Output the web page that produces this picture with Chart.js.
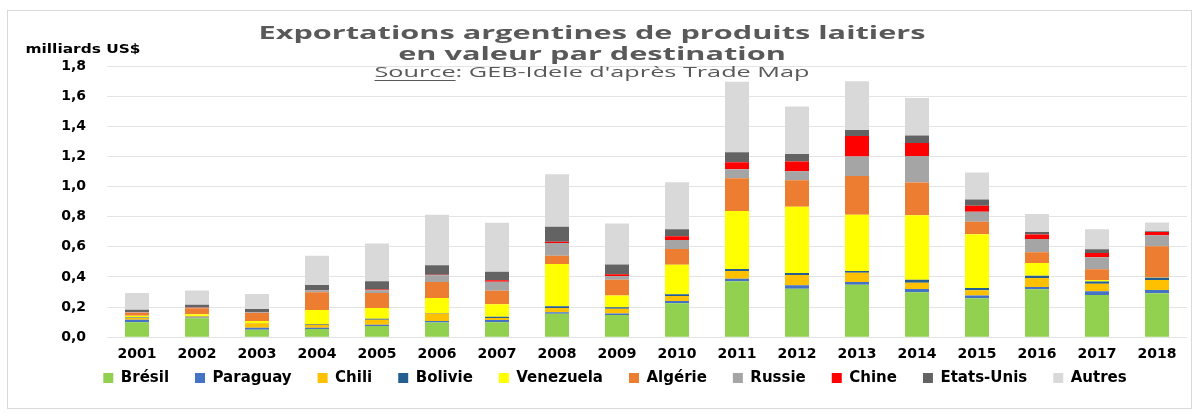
<!DOCTYPE html>
<html><head><meta charset="utf-8">
<script src="https://cdn.jsdelivr.net/npm/chart.js@4.4.1/dist/chart.umd.min.js"></script>
<style>html,body{margin:0;padding:0;background:#fff}#wrap{width:1198px;height:418px}</style>
</head><body><div id="wrap"><canvas id="c" width="1198" height="418"></canvas></div>
<script>
const years = ['2001','2002','2003','2004','2005','2006','2007','2008','2009','2010','2011','2012','2013','2014','2015','2016','2017','2018'];
const bresil    = [0.100,0.125,0.050,0.055,0.075,0.097,0.100,0.156,0.148,0.225,0.371,0.322,0.348,0.298,0.258,0.318,0.280,0.291];
const paraguay  = [0.015,0.005,0.012,0.008,0.008,0.010,0.014,0.010,0.010,0.015,0.017,0.022,0.018,0.022,0.018,0.015,0.025,0.022];
const chili     = [0.012,0.008,0.030,0.020,0.032,0.050,0.013,0.028,0.031,0.033,0.051,0.069,0.062,0.042,0.035,0.060,0.050,0.066];
const bolivie   = [0.003,0.002,0.003,0.004,0.008,0.004,0.008,0.012,0.009,0.012,0.013,0.013,0.011,0.020,0.015,0.015,0.015,0.015];
const venezuela = [0.012,0.012,0.012,0.094,0.071,0.100,0.083,0.280,0.078,0.196,0.386,0.439,0.373,0.428,0.358,0.084,0.010,0.003];
const algerie   = [0.020,0.040,0.053,0.117,0.100,0.105,0.090,0.055,0.105,0.104,0.217,0.177,0.258,0.216,0.082,0.071,0.071,0.206];
const russie    = [0.003,0.004,0.005,0.013,0.018,0.045,0.060,0.084,0.023,0.060,0.060,0.059,0.129,0.177,0.066,0.088,0.080,0.074];
const chine     = [0.002,0.001,0.002,0.002,0.004,0.003,0.010,0.008,0.013,0.025,0.046,0.065,0.136,0.086,0.040,0.031,0.028,0.022];
const etatsUnis = [0.016,0.018,0.020,0.033,0.056,0.063,0.056,0.100,0.066,0.046,0.066,0.050,0.040,0.049,0.042,0.017,0.025,0.005];
const autres    = [0.110,0.095,0.100,0.194,0.250,0.335,0.325,0.348,0.272,0.313,0.468,0.316,0.324,0.249,0.179,0.118,0.133,0.058];
const yTickLabels = ['0,0','0,2','0,4','0,6','0,8','1,0','1,2','1,4','1,6','1,8'];

const series = [
  ['Brésil', bresil, '#92D050'],
  ['Paraguay', paraguay, '#4472C4'],
  ['Chili', chili, '#FFC000'],
  ['Bolivie', bolivie, '#255E91'],
  ['Venezuela', venezuela, '#FFFF00'],
  ['Algérie', algerie, '#ED7D31'],
  ['Russie', russie, '#A5A5A5'],
  ['Chine', chine, '#FF0000'],
  ['Etats-Unis', etatsUnis, '#636363'],
  ['Autres', autres, '#D9D9D9']
];

const LEGEND_ROW_Y = 378;

const decor = {
  id: 'decor',
  beforeDraw(c) {
    const g = c.ctx;
    g.save();
    g.fillStyle = '#fff'; g.fillRect(0, 0, c.width, c.height);
    g.strokeStyle = '#D9D9D9'; g.lineWidth = 1;
    g.strokeRect(7.5, 10.5, 1184, 398);
    g.restore();
    const lg = c.legend;
    if (lg && lg.legendHitBoxes && lg.legendHitBoxes.length) {
      const pad = lg.options.labels.padding;
      const hb = lg.legendHitBoxes[0];
      const currentCenter = lg.top + pad + hb.height / 2;
      const dy = LEGEND_ROW_Y - currentCenter;
      lg.top += dy; lg.bottom += dy;
      lg.legendHitBoxes.forEach(h => { h.top += dy; });
    }
  },
  afterDraw(c) {
    const g = c.ctx;
    g.save();
    g.textBaseline = 'middle';
    const t1 = 'Exportations argentines de produits laitiers';
    const t2 = 'en valeur par destination';
    g.font = 'bold 17px "Open Sans"';
    const s = 667 / g.measureText(t1).width;
    g.fillStyle = '#595959';
    g.textAlign = 'center';
    [[t1, 34], [t2, 55]].forEach(([t, y]) => {
      g.save(); g.translate(592, y); g.scale(s, 1); g.fillText(t, 0, 0); g.restore();
    });
    const sA = 'Source', sB = ": GEB-Idele d'après Trade Map";
    g.font = '14px "Open Sans"';
    const wA = g.measureText(sA).width, wB = g.measureText(sB).width;
    const ss = 435 / (wA + wB);
    const x0 = 592 - (wA + wB) * ss / 2;
    g.save(); g.translate(x0, 73); g.scale(ss, 1); g.textAlign = 'left';
    g.fillText(sA, 0, 0); g.fillText(sB, wA, 0);
    g.fillRect(0, 7, wA, 1);
    g.restore();
    const u = 'milliards US$';
    g.font = 'bold 12px "DejaVu Sans"';
    const su = 115 / g.measureText(u).width;
    g.fillStyle = '#000';
    g.save(); g.translate(83, 50); g.scale(su, 1); g.textAlign = 'center'; g.fillText(u, 0, 0); g.restore();
    g.restore();
  }
};

new Chart(document.getElementById('c'), {
  type: 'bar',
  data: {
    labels: years,
    datasets: series.map(([label, data, color]) => ({
      label, data, backgroundColor: color, borderWidth: 0,
      barPercentage: 0.4, categoryPercentage: 1.0
    }))
  },
  options: {
    responsive: false,
    animation: false,
    layout: { padding: { top: 66, left: 43, right: 11, bottom: -5 } },
    plugins: {
      tooltip: { enabled: false },
      title: { display: false },
      legend: {
        position: 'bottom',
        labels: {
          boxWidth: 10, boxHeight: 10, padding: 26, color: '#000',
          font: { family: '"DejaVu Sans"', weight: 'bold', size: 15 }
        }
      }
    },
    scales: {
      x: {
        stacked: true,
        grid: { display: false, drawTicks: false },
        border: { display: false },
        ticks: { color: '#000', padding: 9, font: { family: '"DejaVu Sans"', weight: 'bold', size: 14 } }
      },
      y: {
        stacked: true, min: 0, max: 1.8,
        grid: { color: '#E4E4E4', drawTicks: false, lineWidth: 1 },
        border: { display: false },
        ticks: {
          stepSize: 0.2, padding: 21, color: '#000',
          font: { family: '"DejaVu Sans"', weight: 'bold', size: 14 },
          callback: (v, i) => yTickLabels[i]
        },
        afterFit(s) { s.width = 64; }
      }
    }
  },
  plugins: [decor]
});
</script>
</body></html>
